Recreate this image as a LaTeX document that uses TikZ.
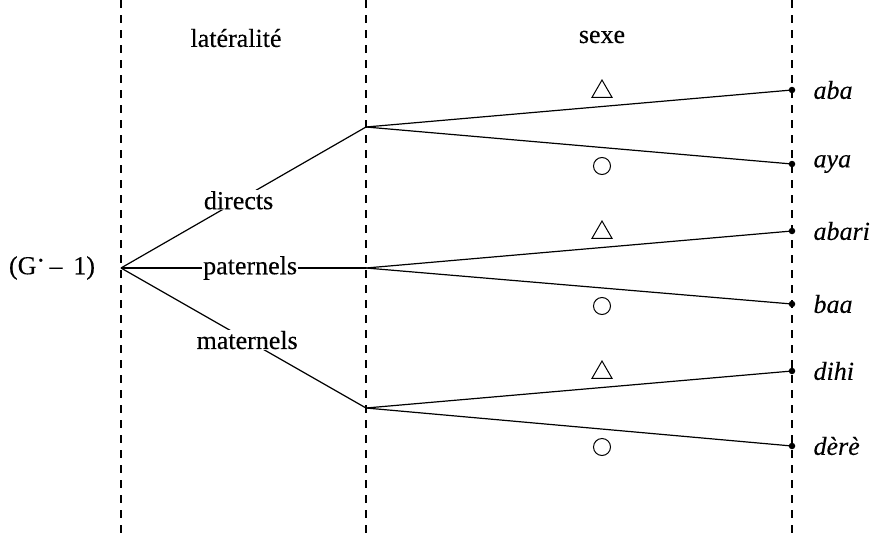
\documentclass[tikz,border=0pt]{standalone}
\usepackage{fontspec}
\setmainfont[FakeBold=0.3]{Liberation Serif}
\usetikzlibrary{shapes.geometric}
\tikzset{
  vline/.style={line width=1.3pt, dash pattern=on 8pt off 7pt},
  branch/.style={line width=1.2pt},
  lab/.style={fill=white, inner xsep=1pt, inner ysep=1pt, font=\fontsize{26}{28}\selectfont},
  head/.style={font=\fontsize{26}{28}\selectfont},
  leaf/.style={anchor=west, font=\fontsize{26}{28}\selectfont\itshape},
  dot/.style={circle, fill=black, inner sep=0pt, minimum size=6.5pt},
  tri/.style={draw, line width=1pt, regular polygon, regular polygon sides=3, minimum size=23pt, inner sep=0pt},
  circ/.style={draw, line width=1pt, circle, minimum size=17pt, inner sep=0pt},
}
\begin{document}
\begin{tikzpicture}[x=1pt, y=-1pt]
\useasboundingbox (0,0) rectangle (875,533);
% vertical dashed lines
\coordinate (t1) at (121,0); \coordinate (b1) at (121,533);
\coordinate (t2) at (366,0); \coordinate (b2) at (366,533);
\coordinate (t3) at (792,0); \coordinate (b3) at (792,533);
\draw[vline] (t1) -- (b1);
\draw[vline] (t2) -- (b2);
\draw[vline] (t3) -- (b3);
% headings
\node[head] (hl) at (236,38) {latéralité};
\node[head] (hs) at (602,37) {sexe};
% root
\node[head] (g) at (52,268) {(G\raisebox{0.45ex}{·}\,– \,1)};
\coordinate (r) at (121,268);
% branch points
\coordinate (d) at (366,127);
\coordinate (p) at (366,268);
\coordinate (m) at (366,408);
% leaves
\node[dot] (l1) at (792,90) {};
\node[dot] (l2) at (792,164) {};
\node[dot] (l3) at (792,231) {};
\node[dot] (l4) at (792,304) {};
\node[dot] (l5) at (792,371) {};
\node[dot] (l6) at (792,446) {};
\node[leaf] (n1) at (810,90) {aba};
\node[leaf] (n2) at (810,164) {aya};
\node[leaf] (n3) at (810,231) {abari};
\node[leaf] (n4) at (810,304) {baa};
\node[leaf] (n5) at (810,371) {dihi};
\node[leaf] (n6) at (810,446) {dèrè};
% first level
\draw[branch] (r) -- node[lab, pos=0.48] {directs} (d);
\draw[branch] (r) -- node[lab, pos=0.527] {paternels} (p);
\draw[branch] (r) -- node[lab, pos=0.515] {maternels} (m);
% second level
\draw[branch] (d) -- (l1.center);
\draw[branch] (d) -- (l2.center);
\draw[branch] (p) -- (l3.center);
\draw[branch] (p) -- (l4.center);
\draw[branch] (m) -- (l5.center);
\draw[branch] (m) -- (l6.center);
% sex symbols
\node[tri] (s1) at (602,91.5) {};
\node[circ] (s2) at (602,166) {};
\node[tri] (s3) at (602,232.5) {};
\node[circ] (s4) at (602,306) {};
\node[tri] (s5) at (602,372.5) {};
\node[circ] (s6) at (602,447) {};
\end{tikzpicture}
\end{document}
